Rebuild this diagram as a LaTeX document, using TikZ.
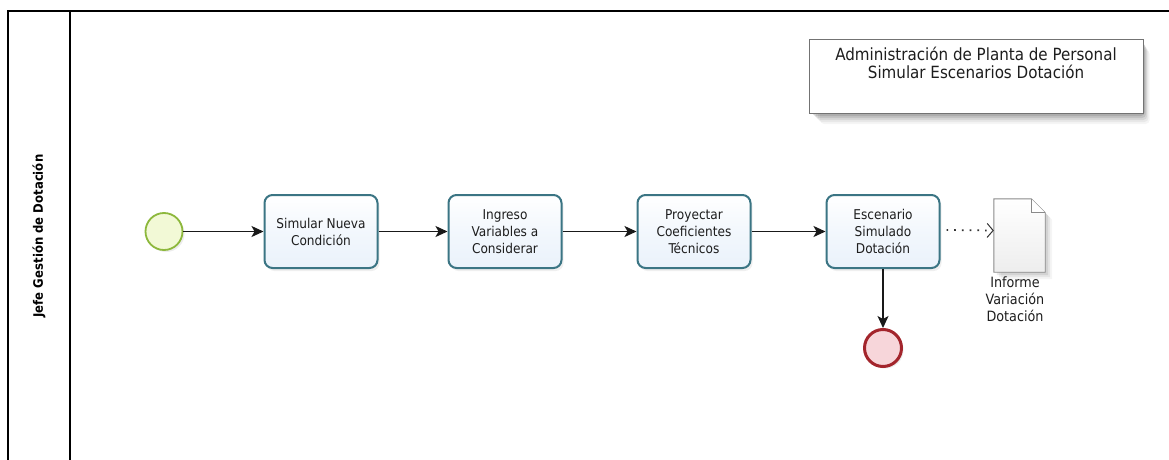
\documentclass[tikz,border=0pt]{standalone}
\usepackage{fontspec}
\setmainfont{DejaVu Sans Condensed}
\usetikzlibrary{arrows.meta,shadows,calc}

\definecolor{taskline}{HTML}{3B7584}
\definecolor{taskfill}{HTML}{EAF2FB}
\definecolor{startline}{HTML}{8DB83C}
\definecolor{startfill}{HTML}{F2F9D6}
\definecolor{endline}{HTML}{A3252C}
\definecolor{endfill}{HTML}{F7D6DA}
\definecolor{txt}{HTML}{1E1E1E}
\definecolor{docline}{HTML}{8A8A8A}

\tikzset{
  lanebox/.style={line width=1.3pt, draw=black},
  task/.style={draw=taskline, line width=2pt, rounded corners=8pt,
    top color=white, bottom color=taskfill, middle color=taskfill!60,
    minimum width=113pt, minimum height=73pt, align=center, text=txt,
    font=\fontsize{13.5}{17}\selectfont, inner sep=2pt,
    drop shadow={opacity=0.12, shadow xshift=2pt, shadow yshift=-3pt}},
  startev/.style={circle, draw=startline, line width=1.8pt, fill=startfill,
    minimum size=37pt, inner sep=0pt,
    drop shadow={opacity=0.15, shadow xshift=2pt, shadow yshift=-2pt}},
  endev/.style={circle, draw=endline, line width=3pt, fill=endfill,
    minimum size=37pt, inner sep=0pt,
    drop shadow={opacity=0.15, shadow xshift=2pt, shadow yshift=-2pt}},
  flow/.style={draw=black!90, line width=1.1pt, -{Stealth[length=12pt, width=11pt, inset=3pt]}},
  assoc/.style={draw=black!80, line width=1.7pt, dash pattern=on 1.7pt off 6pt,
    -{Straight Barb[length=6pt, width=14pt, line width=1pt]}},
  doclabel/.style={align=center, text=txt, font=\fontsize{14.2}{17}\selectfont, inner sep=0pt},
  titletext/.style={align=center, text=txt, font=\fontsize{16.8}{18}\selectfont, inner sep=0pt},
  lanetitle/.style={rotate=90, font=\bfseries\fontsize{13}{14}\selectfont, text=black},
}

\begin{document}
\begin{tikzpicture}[x=1pt, y=-1pt]
\useasboundingbox (0,0) rectangle (1169,460);
\fill[white] (0,0) rectangle (1169,460);

% pool and lane
\draw[lanebox] (8,460) -- (8,11) -- (1169,11);
\draw[lanebox] (70,11) -- (70,460);
\node[lanetitle] (lane) at (39,236) {Jefe Gestión de Dotación};

% title box with soft shadow
\foreach \s/\o in {11/0.04,9/0.05,7/0.07,5/0.09,3/0.11}{
  \fill[black, opacity=\o, rounded corners=4pt] (809+\s,39+\s) rectangle (1143+\s*0.6,113+\s);
}
\node[draw=black!55, line width=0.8pt, fill=white, minimum width=334pt, minimum height=74pt,
      inner sep=0pt] (title) at (976,76) {};
\node[titletext, anchor=north] (titletxt) at (976,47)
  {Administración de Planta de Personal\\Simular Escenarios Dotación};

% events and tasks
\node[startev] (start) at (164,231.5) {};
\node[task] (t1) at (321,231.5) {Simular Nueva\\Condición};
\node[task] (t2) at (505,231.5) {Ingreso\\Variables a\\Considerar};
\node[task] (t3) at (694,231.5) {Proyectar\\Coeficientes\\Técnicos};
\node[task] (t4) at (883,231.5) {Escenario\\Simulado\\Dotación};
\node[endev] (end) at (883,348) {};

% data object
\node[minimum width=51pt, minimum height=73pt, inner sep=0pt] (doc) at (1019.5,235.5) {};
\foreach \s/\o in {7/0.04,5/0.06,3/0.08}{
  \fill[black, opacity=\o] ($(doc.north west)+(\s,\s)$) -- ($(doc.north east)+(\s-14,\s)$)
    -- ($(doc.north east)+(\s,\s+14)$) -- ($(doc.south east)+(\s,\s)$)
    -- ($(doc.south west)+(\s,\s)$) -- cycle;
}
\draw[docline, line width=0.9pt, top color=white, bottom color=black!7]
  (doc.north west) -- ($(doc.north east)+(-14,0)$) -- ($(doc.north east)+(0,14)$)
  -- (doc.south east) -- (doc.south west) -- cycle;
\draw[docline, line width=0.9pt, fill=white]
  ($(doc.north east)+(-14,0)$) -- ($(doc.north east)+(-14,14)$) -- ($(doc.north east)+(0,14)$);
\node[doclabel, anchor=north] (doctxt) at (1015,277) {Informe\\Variación\\Dotación};

% sequence flows
\draw[flow] (start) -- (t1);
\draw[flow] (t1) -- (t2);
\draw[flow] (t2) -- (t3);
\draw[flow] (t3) -- (t4);
\draw[flow] (t4) -- (end);

% association to the data object
\draw[assoc] ($(t4.east)+(6,-1.5)$) -- ($(doc.west)+(0,-5)$);
\end{tikzpicture}
\end{document}
